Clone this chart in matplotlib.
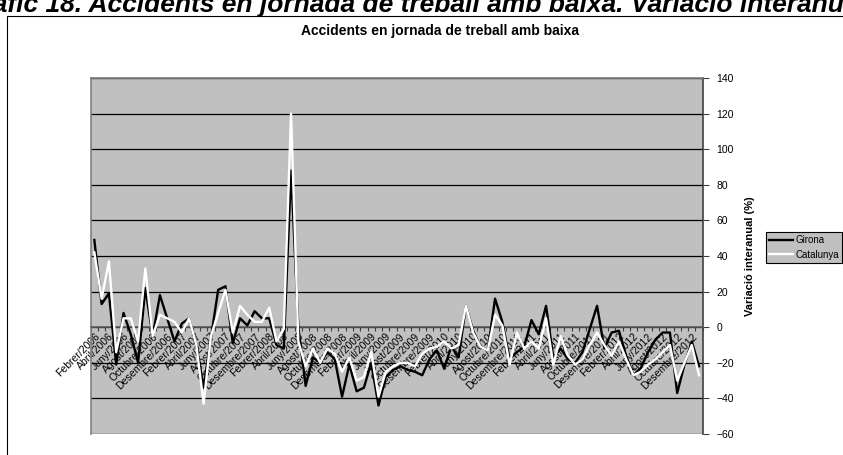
import matplotlib
matplotlib.use('Agg')
import matplotlib.pyplot as plt
from matplotlib.patches import Rectangle

plt.rcParams['font.family'] = ['Liberation Sans', 'DejaVu Sans']

# mesos en catala, serie mensual de febrer 2006 a gener 2013
mesos = ['Gener', 'Febrer', 'Març', 'Abril', 'Maig', 'Juny', 'Juliol',
         'Agost', 'Setembre', 'Octubre', 'Novembre', 'Desembre']
periodes = [f"{mesos[m]}/{a}" for a in range(2006, 2014) for m in range(12)]
periodes = periodes[1:85]

# variacio interanual (%)
girona = [49, 13, 19, -21, 8, -4, -20, 22, -5, 18,
          5, -8, 2, 5, -10, -34, -6, 21, 23, -9,
          5, 1, 9, 5, 5, -10, -12, 88, 0, -33,
          -17, -20, -14, -18, -39, -21, -36, -34, -20, -44,
          -28, -24, -22, -24, -25, -27, -18, -13, -23, -11,
          -17, 12, -2, -11, -13, 16, 3, -18, -14, -11,
          4, -4, 12, -17, -12, -18, -20, -14, -1, 12,
          -12, -3, -2, -16, -27, -23, -14, -7, -3, -3,
          -37, -21, -8, -22]
catalunya = [42, 16, 37, -14, 5, 5, -8, 33, -5, 7,
             5, 3, -3, 5, -10, -43, -5, 8, 21, -3,
             12, 7, 3, 3, 11, -8, -1, 120, -8, -22,
             -12, -20, -12, -15, -25, -17, -30, -28, -14, -39,
             -25, -22, -20, -20, -22, -15, -12, -11, -8, -12,
             -10, 12, -3, -11, -13, 7, 1, -21, -3, -12,
             -8, -12, 5, -21, -5, -16, -21, -18, -10, -3,
             -10, -16, -8, -18, -27, -25, -21, -18, -14, -10,
             -30, -20, -10, -27]

x = list(range(len(periodes)))

fig = plt.figure(figsize=(8.43, 4.55), dpi=100)

# titol superior (retallat)
fig.text(-0.045, 1 - 12 / 455, 'Gràfic 18. Accidents en jornada de treball amb baixa. Variació interanual',
         fontsize=19, fontweight='bold', fontstyle='italic', va='baseline', ha='left')

# marc del grafic
fig.patches.append(Rectangle((7 / 843, -0.1), 1.2, 1.1 - 16 / 455, transform=fig.transFigure,
                             fill=False, edgecolor='black', linewidth=0.8))

fig.text(440 / 843, 1 - 31 / 455, 'Accidents en jornada de treball amb baixa',
         fontsize=10, fontweight='bold', ha='center', va='center')

ax = fig.add_axes([90.7 / 843, 1 - 434 / 455, 612 / 843, 356 / 455])
ax.set_facecolor('#C0C0C0')
for s in ax.spines.values():
    s.set_color('#808080')
    s.set_linewidth(1.2)
ax.spines['bottom'].set_position(('data', 0))
ax.spines['bottom'].set_color('#606060')
ax.spines['right'].set_color('#404040')

ax.plot(x, girona, color='black', linewidth=1.7, label='Girona', zorder=3)
ax.plot(x, catalunya, color='white', linewidth=1.7, label='Catalunya', zorder=4)

ax.set_xlim(-0.5, len(periodes) - 0.5)
ax.set_ylim(-60, 140)
ax.set_yticks(range(-60, 141, 20))
ax.yaxis.grid(True, color='black', linewidth=0.9)
ax.set_axisbelow(True)
ax.yaxis.tick_right()
ax.yaxis.set_label_position('right')
ax.tick_params(axis='y', labelsize=7.5, length=4, width=0.8, pad=6, color='#404040')
ax.set_ylabel('Variació interanual (%)', fontsize=8, fontweight='bold', labelpad=8)

ax.set_xticks(x[::2])
ax.set_xticklabels(periodes[::2], rotation=45, ha='right', rotation_mode='anchor', fontsize=7.5)
ax.set_xticks([i - 0.5 for i in range(len(periodes) + 1)], minor=True)
ax.tick_params(axis='x', which='major', length=0, pad=3)
ax.tick_params(axis='x', which='minor', length=3, width=0.8, color='#404040')

leg = fig.legend(loc='upper left', bbox_to_anchor=(766 / 843, 1 - 232 / 455), fontsize=7,
                 frameon=True, fancybox=False, handlelength=2.5, borderpad=0.3,
                 labelspacing=0.5, handletextpad=0.2, borderaxespad=0)
leg.get_frame().set_facecolor('#C0C0C0')
leg.get_frame().set_edgecolor('black')
leg.get_frame().set_linewidth(0.8)
leg.get_frame().set_alpha(1)

fig.savefig('out.png', dpi=100)
